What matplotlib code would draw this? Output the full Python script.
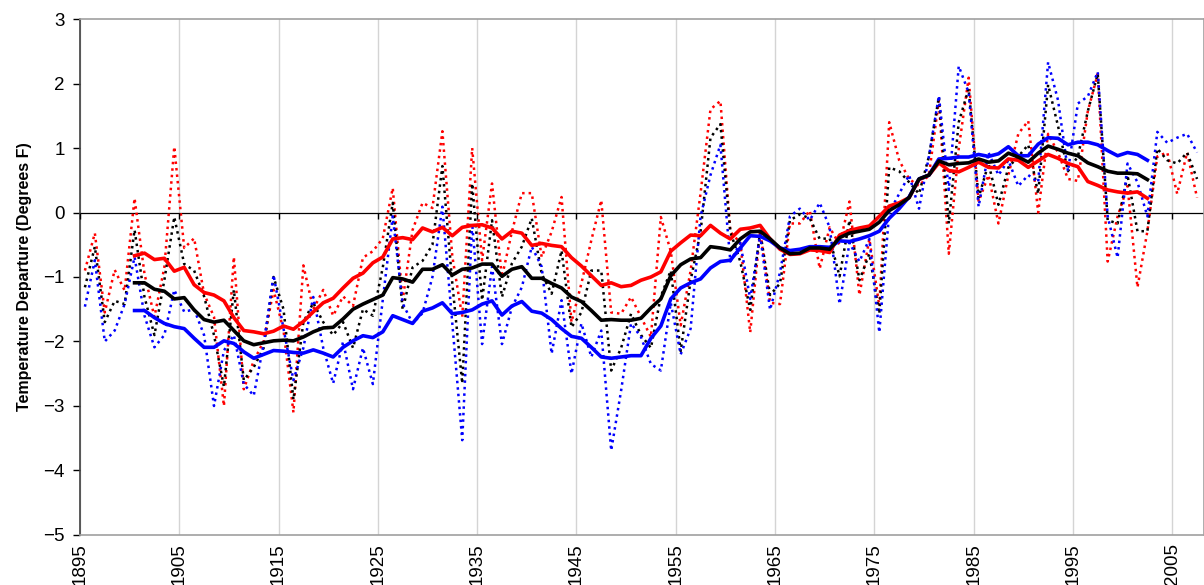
import numpy as np
import matplotlib
matplotlib.use('Agg')
import matplotlib.pyplot as plt

plt.rcParams['font.family'] = ['Liberation Sans', 'DejaVu Sans']

# ── DATA ──
years = np.arange(1895, 2008)
smooth_years = np.arange(1900, 2003)

red_annual = [
    -0.90, -0.32, -1.55, -0.89, -1.21, 0.22, -0.95, -1.62, -0.85, 1.02,    # 1895-1904
    -0.55, -0.40, -1.26, -1.62, -3.00, -0.69, -2.74, -2.30, -2.00, -1.20,  # 1905-1914
    -1.83, -3.10, -0.82, -1.50, -1.20, -1.60, -1.30, -1.45, -0.70, -0.60,  # 1915-1924
    -0.40, 0.38, -1.36, -0.27, 0.15, 0.07, 1.26, -0.68, -1.62, 1.00,       # 1925-1934
    -0.74, 0.45, -1.00, -0.30, 0.30, 0.30, -0.69, -0.30, 0.24, -1.70,      # 1935-1944
    -1.10, -0.43, 0.19, -1.55, -1.57, -1.31, -1.62, -1.93, -0.07, -0.60,   # 1945-1954
    -1.75, -0.90, 0.30, 1.60, 1.73, -0.30, -0.47, -1.86, -0.29, -1.40,     # 1955-1964
    -1.42, -0.17, -0.17, 0.03, -0.87, -0.23, -0.50, 0.17, -1.28, -0.41,    # 1965-1974
    -1.45, 1.40, 0.81, 0.52, 0.41, 0.58, 1.74, -0.64, 0.99, 2.09,          # 1975-1984
    0.17, 0.58, -0.17, 0.58, 1.22, 1.42, 0.00, 1.22, 0.93, 0.52,           # 1985-1994
    0.49, 1.57, 2.15, -0.76, -0.06, 0.41, -1.16, -0.29, 0.87, 0.93,        # 1995-2004
    0.29, 0.93, 0.23,                                                      # 2005-2007
]
black_annual = [
    -1.16, -0.53, -1.70, -1.37, -1.42, -0.27, -1.31, -1.90, -1.05, -0.07,
    -0.80, -0.90, -1.30, -1.90, -2.70, -1.20, -2.60, -2.40, -2.10, -1.00,
    -1.50, -2.90, -1.70, -1.40, -1.70, -1.90, -1.70, -2.10, -1.50, -1.60,
    -0.85, 0.15, -1.51, -0.85, -0.75, -0.50, 0.72, -1.10, -2.65, 0.45,
    -1.36, -0.12, -1.31, -0.79, -0.53, -0.09, -0.95, -1.26, -0.59, -1.78,
    -1.55, -0.90, -0.90, -2.45, -2.10, -1.57, -1.90, -2.10, -1.30, -0.90,
    -2.15, -1.05, -0.30, 1.16, 1.37, -0.30, -0.76, -1.51, -0.29, -1.28,
    -1.10, -0.12, -0.03, -0.09, -0.41, -0.40, -0.99, -0.12, -1.05, -0.64,
    -1.57, 0.70, 0.64, 0.47, 0.29, 0.87, 1.79, -0.17, 1.40, 1.92,
    0.23, 0.76, 0.12, 0.70, 0.87, 1.05, 0.29, 1.98, 1.34, 0.64,
    0.87, 1.57, 2.15, -0.12, -0.17, 0.58, -0.29, -0.29, 0.99, 0.81,
    0.76, 0.93, 0.52,
]
blue_annual = [
    -1.46, -0.74, -2.00, -1.83, -1.42, -0.69, -1.60, -2.09, -1.90, -1.20,
    -1.54, -1.50, -1.90, -3.00, -2.14, -1.90, -2.66, -2.84, -2.04, -0.97,
    -1.80, -2.60, -2.10, -1.31, -2.10, -2.65, -2.00, -2.74, -2.10, -2.66,
    -1.35, -0.06, -1.41, -1.72, -1.56, -1.00, 0.09, -1.72, -3.53, -0.17,
    -2.04, -0.84, -2.04, -1.47, -1.16, -0.53, -0.84, -2.19, -1.36, -2.50,
    -1.72, -2.24, -1.83, -3.69, -2.76, -1.72, -1.93, -2.35, -2.45, -1.40,
    -2.20, -1.80, -0.06, 0.58, 1.05, -0.76, -0.47, -1.34, -0.35, -1.51,
    -0.93, -0.06, 0.06, -0.12, 0.15, -0.23, -1.42, -0.47, -0.76, -0.41,
    -1.86, 0.00, 0.29, 0.58, 0.06, 0.87, 1.81, 0.35, 2.27, 1.86,
    0.09, 0.93, 0.58, 0.81, 0.41, 0.58, 0.47, 2.33, 1.74, 0.64,
    1.69, 1.80, 2.18, -0.06, -0.70, 0.76, 0.47, -0.06, 1.25, 1.08,
    1.16, 1.22, 0.93,
]

red_smooth = [
    -0.67, -0.63, -0.73, -0.71, -0.91, -0.85, -1.12, -1.24, -1.28, -1.37,  # 1900-1909
    -1.63, -1.83, -1.85, -1.88, -1.84, -1.76, -1.81, -1.69, -1.54, -1.40,  # 1910-1919
    -1.33, -1.17, -1.02, -0.94, -0.78, -0.69, -0.41, -0.39, -0.42, -0.24,  # 1920-1929
    -0.30, -0.23, -0.36, -0.23, -0.20, -0.19, -0.24, -0.41, -0.29, -0.32,  # 1930-1939
    -0.51, -0.48, -0.51, -0.53, -0.70, -0.83, -0.98, -1.13, -1.09, -1.15,  # 1940-1949
    -1.13, -1.05, -1.00, -0.92, -0.60, -0.47, -0.35, -0.36, -0.20, -0.32,  # 1950-1959
    -0.41, -0.26, -0.24, -0.20, -0.41, -0.57, -0.65, -0.64, -0.58, -0.59,  # 1960-1969
    -0.62, -0.35, -0.28, -0.24, -0.21, -0.06, 0.10, 0.15, 0.23, 0.51,      # 1970-1979
    0.58, 0.77, 0.65, 0.63, 0.70, 0.78, 0.70, 0.69, 0.83, 0.81,            # 1980-1989
    0.70, 0.80, 0.90, 0.84, 0.76, 0.71, 0.48, 0.42, 0.35, 0.32,            # 1990-1999
    0.30, 0.32, 0.22,                                                      # 2000-2002
]
black_smooth = [
    -1.09, -1.09, -1.19, -1.22, -1.34, -1.32, -1.51, -1.66, -1.70, -1.67,
    -1.83, -1.99, -2.05, -2.02, -1.99, -1.98, -1.99, -1.93, -1.85, -1.79,
    -1.78, -1.65, -1.50, -1.42, -1.35, -1.28, -1.01, -1.03, -1.08, -0.88,
    -0.88, -0.81, -0.97, -0.88, -0.86, -0.80, -0.80, -0.99, -0.88, -0.84,
    -1.02, -1.02, -1.10, -1.17, -1.31, -1.38, -1.52, -1.67, -1.66, -1.67,
    -1.67, -1.64, -1.48, -1.34, -0.98, -0.81, -0.72, -0.70, -0.53, -0.55,
    -0.58, -0.41, -0.30, -0.29, -0.41, -0.55, -0.64, -0.63, -0.55, -0.55,
    -0.57, -0.39, -0.32, -0.29, -0.26, -0.15, 0.03, 0.12, 0.23, 0.52,
    0.58, 0.80, 0.74, 0.76, 0.77, 0.83, 0.78, 0.80, 0.92, 0.86,
    0.78, 0.92, 1.03, 0.98, 0.92, 0.88, 0.77, 0.71, 0.64, 0.61,
    0.61, 0.60, 0.51,
]
blue_smooth = [
    -1.52, -1.52, -1.63, -1.72, -1.77, -1.80, -1.95, -2.09, -2.09, -1.99,
    -2.03, -2.16, -2.26, -2.20, -2.14, -2.15, -2.17, -2.18, -2.13, -2.18,
    -2.24, -2.09, -1.99, -1.91, -1.94, -1.85, -1.60, -1.66, -1.72, -1.53,
    -1.48, -1.40, -1.57, -1.55, -1.51, -1.42, -1.37, -1.59, -1.45, -1.38,
    -1.53, -1.56, -1.66, -1.80, -1.92, -1.95, -2.09, -2.24, -2.26, -2.24,
    -2.22, -2.22, -1.95, -1.76, -1.34, -1.17, -1.09, -1.03, -0.86, -0.76,
    -0.74, -0.55, -0.36, -0.37, -0.44, -0.55, -0.59, -0.57, -0.53, -0.53,
    -0.54, -0.44, -0.45, -0.41, -0.36, -0.29, -0.09, 0.06, 0.24, 0.52,
    0.58, 0.83, 0.84, 0.86, 0.86, 0.90, 0.87, 0.91, 1.02, 0.88,
    0.88, 1.06, 1.16, 1.15, 1.05, 1.09, 1.09, 1.05, 0.96, 0.88,
    0.93, 0.90, 0.81,
]

tick_years = np.arange(1895, 2006, 10)

# ── CHART ──
fig = plt.figure(figsize=(12.04, 5.85), dpi=100)
ax = fig.add_axes([0.0664, 0.0855, 0.9336, 0.882])

dot = (0, (1.0, 1.6))
ax.plot(years, red_annual, color='#ff0000', lw=1.8, ls=dot, zorder=3)
ax.plot(years, black_annual, color='#000000', lw=1.8, ls=dot, zorder=3)
ax.plot(years, blue_annual, color='#0000ff', lw=1.8, ls=dot, zorder=3)

ax.plot(smooth_years, red_smooth, color='#ff0000', lw=2.6, zorder=4)
ax.plot(smooth_years, blue_smooth, color='#0000ff', lw=2.6, zorder=4)
ax.plot(smooth_years, black_smooth, color='#000000', lw=2.6, zorder=5)

ax.axhline(0, color='black', lw=0.9, zorder=2)

# category-style axis: labels sit on the boundary before each year
ax.set_xlim(1894.5, 2007.7)
ax.set_ylim(-5, 3)
ax.set_xticks(tick_years - 0.5)
ax.set_xticklabels([str(y) for y in tick_years], rotation=90, fontsize=13.5)
ax.tick_params(axis='x', length=0, pad=6)
ax.set_yticks(range(-5, 4))
ax.tick_params(axis='y', labelsize=13.5, length=5, direction='out', width=1, pad=6)
ax.grid(axis='x', color='#d4d4d4', lw=1)
ax.set_axisbelow(True)

ax.set_ylabel('Temperature Departure (Degrees F)', fontsize=11.5,
              fontweight='bold', labelpad=8)

for side in ['top', 'bottom', 'right']:
    ax.spines[side].set_color('#a0a0a0')
    ax.spines[side].set_linewidth(1.2)
ax.spines['left'].set_color('#404040')
ax.spines['left'].set_linewidth(1.2)

# small tick marks along the zero line
ax2 = ax.twiny()
ax2.set_xlim(ax.get_xlim())
ax2.set_xticks(tick_years - 0.5)
ax2.set_xticklabels([])
ax2.spines['bottom'].set_position(('data', 0))
ax2.xaxis.set_ticks_position('bottom')
ax2.tick_params(axis='x', length=4, direction='out', width=1, color='black')
for side in ['top', 'bottom', 'left', 'right']:
    ax2.spines[side].set_visible(False)

plt.savefig('out.png', dpi=100)
